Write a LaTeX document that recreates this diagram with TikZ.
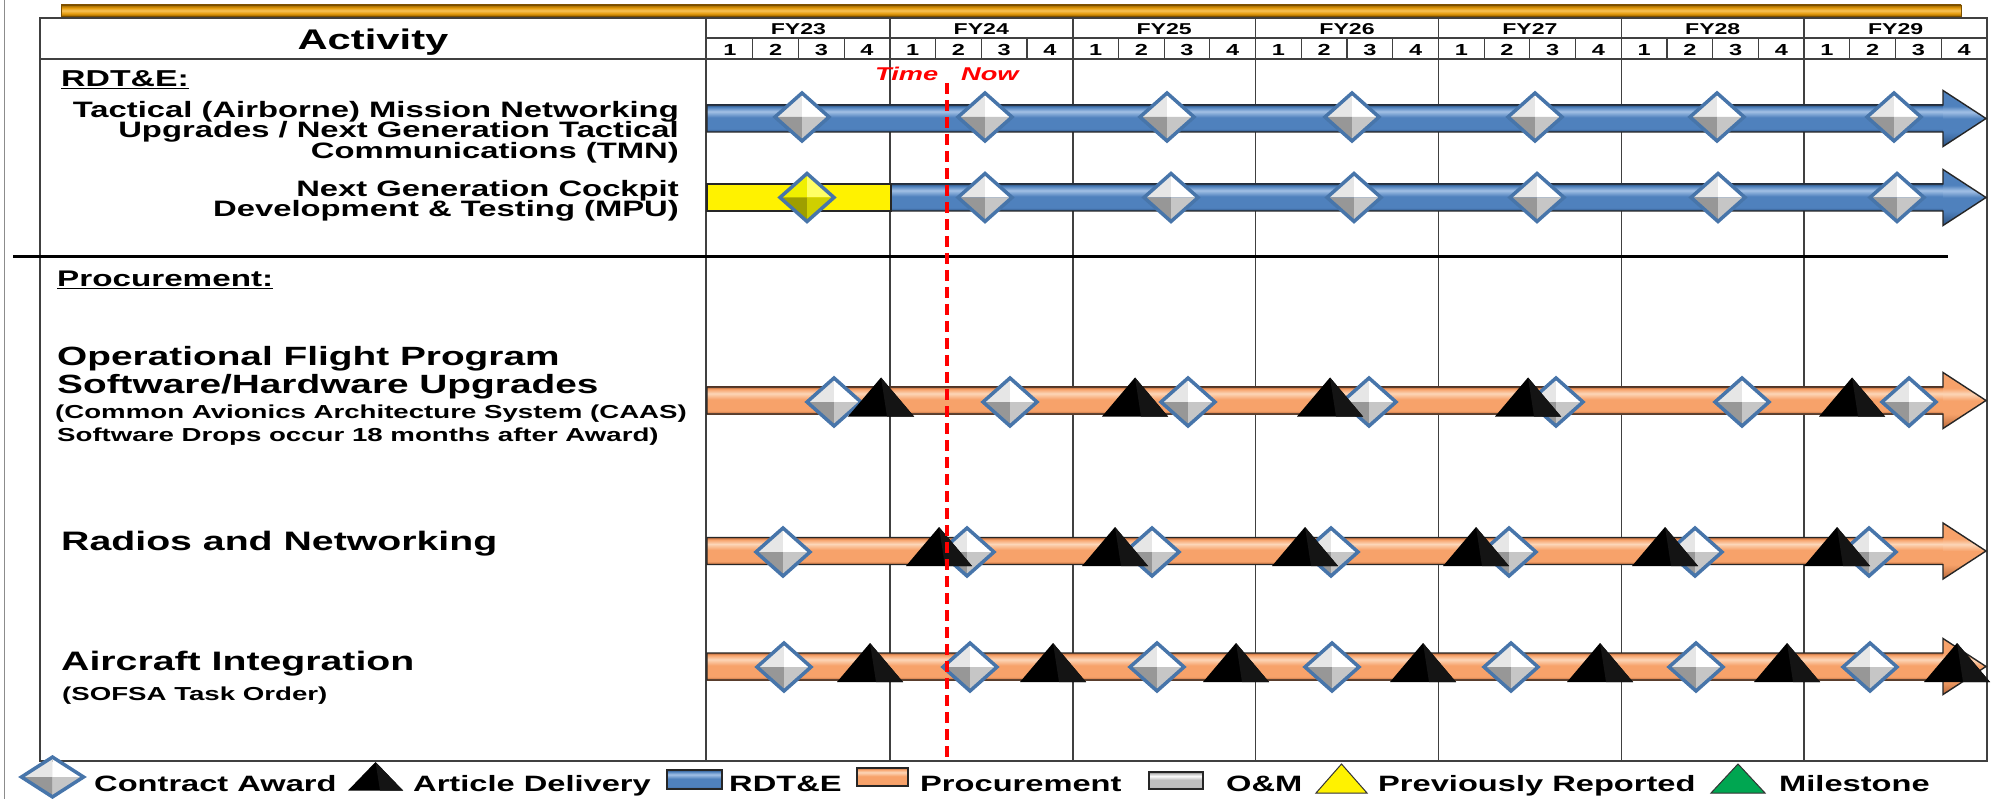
\documentclass[tikz,border=0pt]{standalone}
\usepackage{fontspec}
\setmainfont{Liberation Sans}[FakeStretch=1.47]
\newcommand\setfs[1]{\fontsize{#1}{#1}\selectfont}
\definecolor{bluD}{HTML}{2C5282}
\definecolor{bluM}{HTML}{4F81BD}
\definecolor{bluL}{HTML}{A3C1E6}
\definecolor{orgD}{HTML}{B9683A}
\definecolor{orgM}{HTML}{F7A26A}
\definecolor{orgL}{HTML}{FCD6B8}
\definecolor{gryD}{HTML}{6E6E6E}
\definecolor{gryM}{HTML}{BFBFBF}
\definecolor{gryL}{HTML}{FFFFFF}
\definecolor{goldD}{HTML}{9A6400}
\definecolor{goldM}{HTML}{E39A0C}
\definecolor{goldL}{HTML}{F7C35A}
\definecolor{dTL}{HTML}{E6E6E6}
\definecolor{dTR}{HTML}{FFFFFF}
\definecolor{dBL}{HTML}{979797}
\definecolor{dBR}{HTML}{C6C6C6}
\definecolor{yTL}{HTML}{F0F000}
\definecolor{yTR}{HTML}{FFFF66}
\definecolor{yBL}{HTML}{9E9E00}
\definecolor{yBR}{HTML}{CFCF00}
\definecolor{dEdge}{HTML}{4775AA}
\definecolor{msGreen}{HTML}{00A651}
\newcommand\mkbarshade[4]{\pgfdeclareverticalshading{#1}{100bp}{color(0bp)=(#2); color(25bp)=(#2); color(31bp)=(#3); color(52bp)=(#3); color(63bp)=(#4); color(71bp)=(#3); color(75bp)=(#2); color(100bp)=(#2)}}
\newcommand\mkheadshade[4]{\pgfdeclareverticalshading{#1}{100bp}{color(0bp)=(#2); color(25bp)=(#2); color(38bp)=(#3); color(50bp)=(#3); color(56bp)=(#4); color(61bp)=(#3); color(75bp)=(#3); color(100bp)=(#3)}}
\mkbarshade{bluebar}{bluD}{bluM}{bluL}
\mkheadshade{bluehead}{bluD}{bluM}{bluL}
\mkbarshade{orgbar}{orgD}{orgM}{orgL}
\mkheadshade{orghead}{orgD}{orgM}{orgL}
\mkbarshade{grybar}{gryD}{gryM}{gryL}
\pgfdeclareverticalshading{goldbar}{100bp}{color(0bp)=(goldD); color(25bp)=(goldD); color(36bp)=(goldM); color(50bp)=(goldL); color(62bp)=(goldM); color(75bp)=(goldD); color(100bp)=(goldD)}
\tikzset{
  award/.pic={
    \fill[dTL] (0,0)--(-27,0)--(0,-24)--cycle;
    \fill[dTR] (0,0)--(0,-24)--(27,0)--cycle;
    \fill[dBL] (0,0)--(-27,0)--(0,24)--cycle;
    \fill[dBR] (0,0)--(27,0)--(0,24)--cycle;
    \draw[draw=dEdge, line width=3.5pt, line join=miter] (-27,0)--(0,-24)--(27,0)--(0,24)--cycle;
  },
  prevaward/.pic={
    \fill[yTL] (0,0)--(-27,0)--(0,-24)--cycle;
    \fill[yTR] (0,0)--(0,-24)--(27,0)--cycle;
    \fill[yBL] (0,0)--(-27,0)--(0,24)--cycle;
    \fill[yBR] (0,0)--(27,0)--(0,24)--cycle;
    \draw[draw=dEdge, line width=3.5pt, line join=miter] (-27,0)--(0,-24)--(27,0)--(0,24)--cycle;
  },
  deliv/.pic={
    \fill[black] (0,-23)--(-33,16)--(33,16)--cycle;
    \fill[black!92] (0,-23)--(33,16)--(6,16)--cycle;
  },
  gridline/.style={draw=black!75, line width=1.6pt},
  qline/.style={draw=black!75, line width=1.2pt},
  barline/.style={draw=black!85, line width=1.4pt, line join=miter},
  lbl/.style={inner sep=0pt, font=\bfseries},
}
\newcommand\ganttarrow[4]{%
  \shade[shading=#3] (#1,{#2-13.5}) rectangle (1944,{#2+13.5});
  \shade[shading=#4] (1943,{#2-28}) -- (1986,#2) -- (1943,{#2+28}) -- cycle;
  \draw[barline] (#1,{#2-13.5}) -- (1943,{#2-13.5}) -- (1943,{#2-28}) -- (1986,#2) -- (1943,{#2+28}) -- (1943,{#2+13.5}) -- (#1,{#2+13.5}) -- cycle;
}
\begin{document}
\begin{tikzpicture}[x=1pt,y=-1pt]
\fill[white] (0,0) rectangle (2005,799);
\useasboundingbox (0,0) rectangle (2005,799);
% top decorative bar
\shade[shading=goldbar] (61,5) rectangle (1961,16);
\draw[goldD!80!black, line width=0.6pt] (61,5) rectangle (1961,16);
% left frame line
\draw[black!45, line width=1.5pt] (4.6,0) -- (4.6,799);
% table frame
\draw[gridline] (40,18) rectangle (1987,761);
\draw[gridline] (706,18) -- (706,761);
\draw[gridline] (706,38) -- (1987,38);
\draw[gridline] (40,59) -- (1987,59);
\foreach \i in {1,...,27} \draw[qline] ({707+45.714*\i},38) -- ({707+45.714*\i},59);
\foreach \i in {1,...,6} \draw[gridline] ({707+182.857*\i},18) -- ({707+182.857*\i},761);
\draw[black, line width=3pt] (13,257) -- (1948,257);
% header text
\node[lbl, anchor=base, font=\setfs{28.4}\bfseries] (act) at (373,49.5) {Activity};
\foreach \y [count=\i from 0] in {23,...,29}
  \node[lbl, anchor=base, font=\setfs{15.7}\bfseries] (fy\y) at ({707+182.857*(\i+0.5)},35) {FY\y};
\foreach \i in {0,...,27}{
  \pgfmathtruncatemacro\q{mod(\i,4)+1}
  \node[lbl, anchor=base, font=\setfs{16}\bfseries] (q\i) at ({707+45.714*(\i+0.5)},56) {\q};
}
% activity labels
\node[lbl, anchor=base west, font=\setfs{23}\bfseries] (rdte) at (61,87) {\underline{RDT\&E:}};
\node[lbl, anchor=base east, font=\setfs{22.3}\bfseries] (tmn1) at (679,117.5) {Tactical (Airborne) Mission Networking};
\node[lbl, anchor=base east, font=\setfs{22.3}\bfseries] (tmn2) at (679,138) {Upgrades / Next Generation Tactical};
\node[lbl, anchor=base east, font=\setfs{22.3}\bfseries] (tmn3) at (679,159) {Communications (TMN)};
\node[lbl, anchor=base east, font=\setfs{22.3}\bfseries] (mpu1) at (679,197) {Next Generation Cockpit};
\node[lbl, anchor=base east, font=\setfs{22.3}\bfseries] (mpu2) at (679,217) {Development \& Testing (MPU)};
\node[lbl, anchor=base west, font=\setfs{22.6}\bfseries] (proc) at (57,287) {\underline{Procurement:}};
\node[lbl, anchor=base west, font=\setfs{26.4}\bfseries] (ofp1) at (57,366) {Operational Flight Program};
\node[lbl, anchor=base west, font=\setfs{26.4}\bfseries] (ofp2) at (57,394) {Software/Hardware Upgrades};
\node[lbl, anchor=base west, font=\setfs{18.8}\bfseries] (ofp3) at (55,418) {(Common Avionics Architecture System (CAAS)};
\node[lbl, anchor=base west, font=\setfs{18.8}\bfseries] (ofp4) at (57,441) {Software Drops occur 18 months after Award)};
\node[lbl, anchor=base west, font=\setfs{26.7}\bfseries] (radio) at (61,550.7) {Radios and Networking};
\node[lbl, anchor=base west, font=\setfs{26.7}\bfseries] (acint) at (61,670.7) {Aircraft Integration};
\node[lbl, anchor=base west, font=\setfs{18.8}\bfseries] (sofsa) at (62,700) {(SOFSA Task Order)};
% RDT&E bars
\ganttarrow{707}{118.5}{bluebar}{bluehead}
\ganttarrow{891}{197.5}{bluebar}{bluehead}
\fill[yellow] (707,184) rectangle (891,211);
\draw[barline] (707,184) rectangle (891,211);
\foreach \x in {802,985,1167,1352,1535,1717,1894} \pic at (\x,117) {award};
\pic at (807,197.5) {prevaward};
\foreach \x in {985,1171,1354,1537,1718,1897} \pic at (\x,197.5) {award};
% Procurement bars
\ganttarrow{707}{400.5}{orgbar}{orghead}
\ganttarrow{707}{551}{orgbar}{orghead}
\ganttarrow{707}{666.5}{orgbar}{orghead}
\foreach \x in {834,1010,1188,1369,1556,1742,1909} \pic at (\x,402) {award};
\foreach \x in {881,1135,1330,1528,1852} \pic at (\x,400.5) {deliv};
\foreach \x in {783,967,1152,1331,1509,1695,1869} \pic at (\x,552) {award};
\foreach \x in {939,1115,1305,1476,1665,1837} \pic at (\x,550) {deliv};
\foreach \x in {784,970,1157,1332,1511,1696,1870} \pic at (\x,667) {award};
\foreach \x in {870,1053,1236,1423,1600,1787,1957} \pic at (\x,666) {deliv};
% time now
\node[lbl, anchor=base west, text=red, font=\setfs{18.5}\bfseries\itshape] (tnow1) at (875,81) {Time};
\node[lbl, anchor=base west, text=red, font=\setfs{18.5}\bfseries\itshape] (tnow2) at (961,81) {Now};
\coordinate (tlTop) at (947,83);
\coordinate (tlBot) at (947,757);
\draw[red, line width=3.5pt, dash pattern=on 11pt off 6pt] (tlTop) -- (tlBot);
% legend
\pic[xscale=1.15, yscale=0.83] at (52.5,777) {award};
\node[lbl, anchor=base west, font=\setfs{22.2}\bfseries] (lg1) at (94,791) {Contract Award};
\fill[black] (375.5,762) -- (348,790.5) -- (403,790.5) -- cycle;
\fill[black!92] (375.5,762) -- (403,790.5) -- (380,790.5) -- cycle;
\node[lbl, anchor=base west, font=\setfs{22.2}\bfseries] (lg2) at (413,791) {Article Delivery};
\shade[shading=bluebar] (667,770) rectangle (722,789);
\draw[barline] (667,770) rectangle (722,789);
\node[lbl, anchor=base west, font=\setfs{22.2}\bfseries] (lg3) at (729,791) {RDT\&E};
\shade[shading=orgbar] (857,768) rectangle (908,786);
\draw[barline] (857,768) rectangle (908,786);
\node[lbl, anchor=base west, font=\setfs{22.2}\bfseries] (lg4) at (920,791) {Procurement};
\shade[shading=grybar] (1149,772) rectangle (1203,789);
\draw[barline] (1149,772) rectangle (1203,789);
\node[lbl, anchor=base west, font=\setfs{22.2}\bfseries] (lg5) at (1226,791) {O\&M};
\draw[fill=yellow, draw=black!80, line width=1pt] (1341.5,764) -- (1316,793) -- (1367,793) -- cycle;
\node[lbl, anchor=base west, font=\setfs{22.2}\bfseries] (lg6) at (1378,791) {Previously Reported};
\draw[fill=msGreen, draw=black!80, line width=1pt] (1738,764) -- (1711,793) -- (1765,793) -- cycle;
\node[lbl, anchor=base west, font=\setfs{22.2}\bfseries] (lg7) at (1779,791) {Milestone};
\end{tikzpicture}
\end{document}
